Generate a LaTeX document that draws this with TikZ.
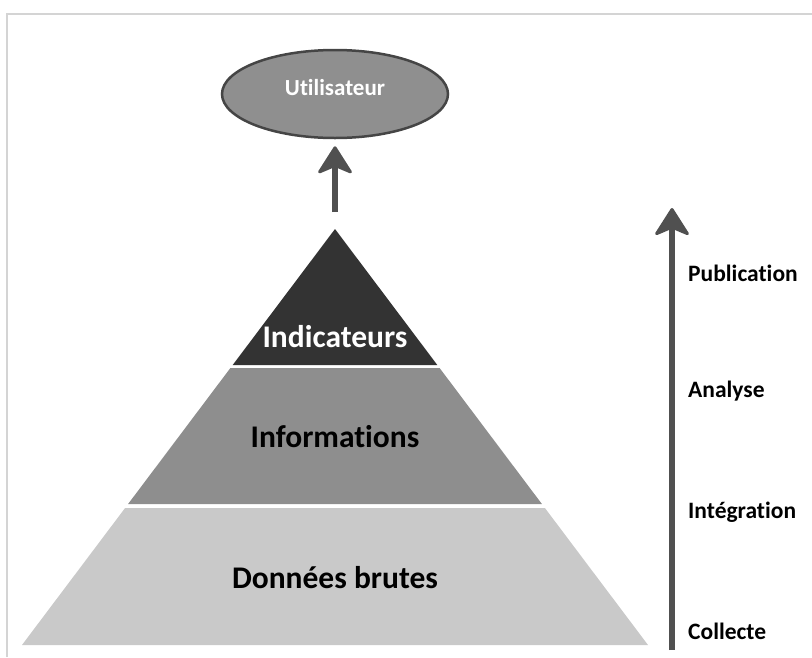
\documentclass[tikz,border=0pt]{standalone}
\usepackage{fontspec}
\setmainfont{Carlito}[Ligatures=NoCommon]
\usetikzlibrary{shapes.geometric,arrows.meta}
\definecolor{frameg}{HTML}{D4D4D4}
\definecolor{topc}{HTML}{333333}
\definecolor{midc}{HTML}{8E8E8E}
\definecolor{botc}{HTML}{C9C9C9}
\definecolor{ellc}{HTML}{8F8F8F}
\definecolor{elld}{HTML}{454545}
\definecolor{arrc}{HTML}{505050}
\tikzset{
  framel/.style={draw=frameg, line width=2pt},
  pyrtext/.style={font=\fontsize{31.5}{31.5}\selectfont\bfseries, inner sep=0pt},
  steplabel/.style={font=\fontsize{23.5}{23.5}\selectfont\bfseries, anchor=west, inner sep=0pt, text=black},
  userell/.style={ellipse, draw=elld, line width=2.5pt, fill=ellc, minimum width=226pt, minimum height=88pt, inner sep=0pt, text=white, font=\fontsize{23}{23}\selectfont\bfseries, text depth=14pt},
  bigarrow/.style={draw=arrc, line width=6.5pt, -{Stealth[round, line width=3pt, length=30pt, width=38pt, inset=8pt]}}
}
\begin{document}
\begin{tikzpicture}[x=1pt,y=-1pt]
\useasboundingbox (0,0) rectangle (812,657);
\draw[framel] (7,657) -- (7,14) -- (812,14);
% pyramid layers
\fill[topc] (335,229) -- (437.3,365) -- (232.7,365) -- cycle;
\fill[midc] (230.4,368) -- (439.6,368) -- (541.9,504) -- (128.1,504) -- cycle;
\fill[botc] (125.1,508) -- (544.9,508) -- (648,645) -- (22,645) -- cycle;
\coordinate (apex) at (335,229);
\node[pyrtext, text=white] (ind) at (335,337) {Indicateurs};
\node[pyrtext, text=black] (inf) at (335,437) {Informations};
\node[pyrtext, text=black] (don) at (335,578) {Données brutes};
% user
\node[userell] (user) at (335,94) {Utilisateur};
\draw[bigarrow, shorten <=17pt, shorten >=7pt] (apex) -- (user.south);
% process arrow
\coordinate (pbot) at (672,650);
\coordinate (ptop) at (672,208);
\draw[bigarrow] (pbot) -- (ptop);
\node[steplabel] (pub) at (688,273) {Publication};
\node[steplabel] (ana) at (688,391) {Analyse};
\node[steplabel] (int) at (688,512) {Intégration};
\node[steplabel] (col) at (688,631) {Collecte};
\end{tikzpicture}
\end{document}
